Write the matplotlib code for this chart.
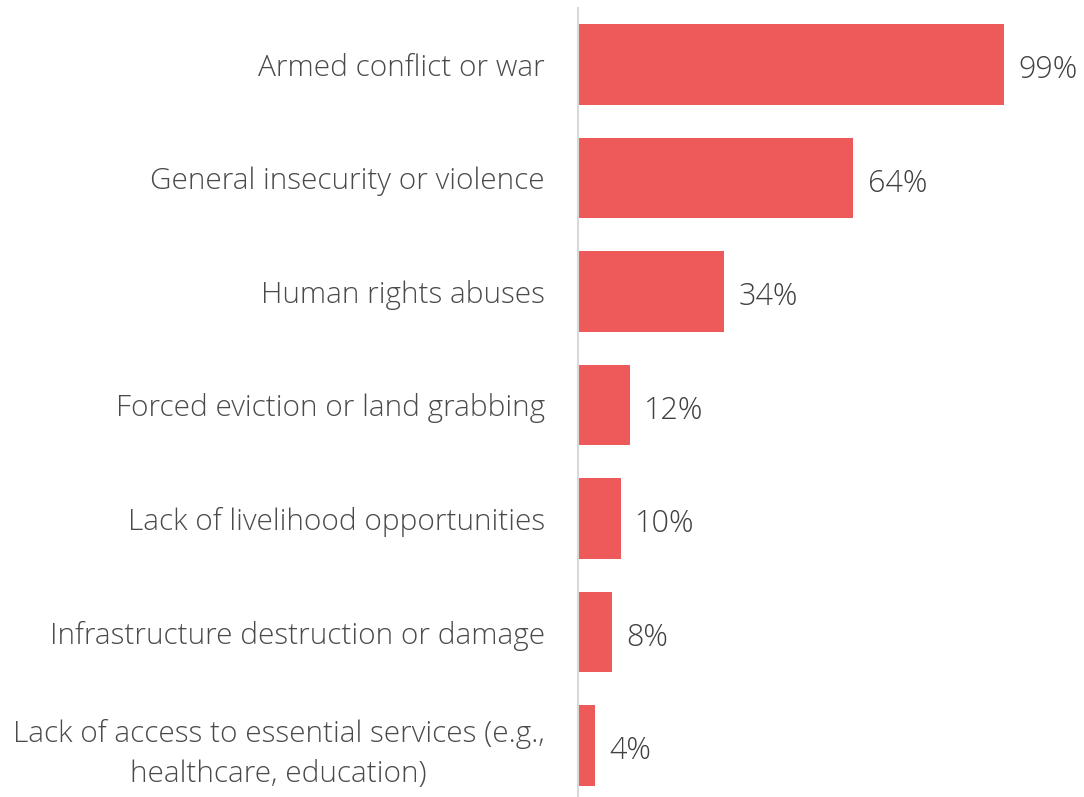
import matplotlib.pyplot as plt

causes = [
    "Armed conflict or war",
    "General insecurity or violence",
    "Human rights abuses",
    "Forced eviction or land grabbing",
    "Lack of livelihood opportunities",
    "Infrastructure destruction or damage",
    "Lack of access to essential services (e.g.,\nhealthcare, education)",
]
shares = [99, 64, 34, 12, 10, 8, 4]

plt.rcParams['font.family'] = ['Open Sans', 'DejaVu Sans']

fig = plt.figure(figsize=(10.84, 7.97), dpi=100)
ax = fig.add_axes([578 / 1084, 0, (1004 - 578) / 1084, 1 - 8 / 797])

pos = list(range(len(causes)))
ax.barh(pos, shares, height=0.71, color="#EE5A5A")
ax.set_xlim(0, 99)
ax.set_ylim(6.454, -0.498)

for p, v in zip(pos, shares):
    ax.text(v + 3.3, p + 0.05, f"{v}%", va="center", ha="left",
            fontsize=22, color="#404040", fontweight="light")

ax.set_yticks(pos)
ax.set_yticklabels(causes, fontsize=21.4, color="#4A4A4A", fontweight="light",
                   ha="right", multialignment="center", linespacing=1.45)
ax.tick_params(axis="y", length=0, pad=24)
ax.set_xticks([])

for s in ["top", "right", "bottom"]:
    ax.spines[s].set_visible(False)
ax.spines["left"].set_color("#D9D9D9")
ax.spines["left"].set_linewidth(1.5)

fig.savefig("out.png", dpi=100)
